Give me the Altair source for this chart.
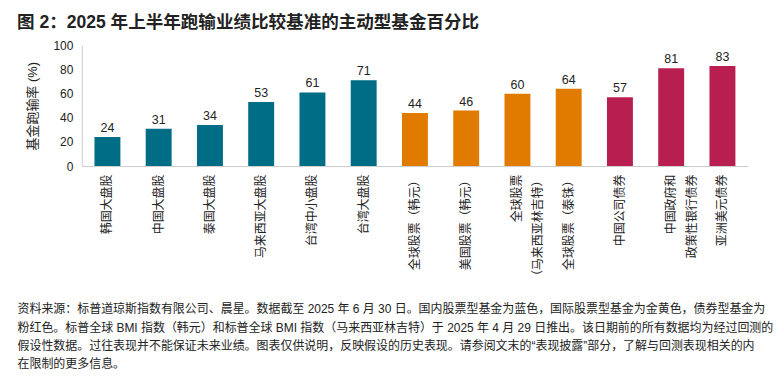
import altair as alt
import pandas as pd

categories = [
    "韩国大盘股", "中国大盘股", "泰国大盘股", "马来西亚大盘股", "台湾中小盘股", "台湾大盘股",
    "全球股票（韩元）", "美国股票（韩元）", "全球股票\u3000\u3000\n（马来西亚林吉特）", "全球股票（泰铢）",
    "中国公司债券", "中国政府和\u3000\n政策性银行债券", "亚洲美元债券",
]
values = [24, 31, 34, 53, 61, 71, 44, 46, 60, 64, 57, 81, 83]
groups = ["国内股票"] * 6 + ["国际股票"] * 4 + ["债券"] * 3
group_names = ["国内股票", "国际股票", "债券"]
group_colors = ["#006d87", "#e07b00", "#b81f50"]

title_text = "图 2：2025 年上半年跑输业绩比较基准的主动型基金百分比"
y_title = "基金跑输率 (%)"
footnote = [
    "资料来源：标普道琼斯指数有限公司、晨星。数据截至 2025 年 6 月 30 日。国内股票型基金为蓝色，国际股票型基金为金黄色，债券型基金为",
    "粉红色。标普全球 BMI 指数（韩元）和标普全球 BMI 指数（马来西亚林吉特）于 2025 年 4 月 29 日推出。该日期前的所有数据均为经过回测的",
    "假设性数据。过往表现并不能保证未来业绩。图表仅供说明，反映假设的历史表现。请参阅文末的“表现披露”部分，了解与回测表现相关的内",
    "在限制的更多信息。",
]

FONT = "Liberation Sans, Noto Sans CJK SC, sans-serif"

df = pd.DataFrame({"cat": categories, "val": values, "grp": groups})

x_enc = alt.X(
    "cat:N",
    sort=None,
    scale=alt.Scale(paddingInner=0.494),
    axis=alt.Axis(
        title=footnote,
        labelAngle=-90,
        labelExpr="split(datum.label, '\\n')",
        labelFontSize=12,
        labelLineHeight=21,
        labelColor="#222222",
        labelPadding=8,
        labelFont=FONT,
        ticks=False,
        domainColor="#cccccc",
        titleFont=FONT,
        titleFontSize=12,
        titleFontWeight="normal",
        titleColor="#222222",
        titleLineHeight=18.4,
        titleAnchor="start",
        titleAlign="left",
        titleBaseline="top",
        titleX=-65,
        titlePadding=22,
    ),
)
y_enc = alt.Y(
    "val:Q",
    scale=alt.Scale(domain=[0, 100]),
    axis=alt.Axis(
        title=y_title,
        values=[0, 20, 40, 60, 80, 100],
        grid=False,
        ticks=False,
        domainColor="#cccccc",
        labelFontSize=12,
        labelColor="#222222",
        labelPadding=9,
        labelFont=FONT,
        titleFont=FONT,
        titleFontSize=13,
        titleFontWeight="normal",
        titleColor="#222222",
        titlePadding=13,
    ),
)

base = alt.Chart(df).encode(x=x_enc, y=y_enc)

bars = base.mark_bar().encode(
    color=alt.Color("grp:N", scale=alt.Scale(domain=group_names, range=group_colors), legend=None)
)
labels = base.mark_text(dy=-9, fontSize=12.5, color="#222222", font=FONT).encode(
    text=alt.Text("val:Q")
)

chart = (
    alt.layer(bars, labels)
    .properties(
        width=668,
        height=121,
        padding={"left": 9, "top": 5, "right": 0, "bottom": 0},
        title=alt.TitleParams(
            text=title_text,
            anchor="start",
            frame="bounds",
            fontSize=17.6,
            fontWeight="bold",
            font=FONT,
            color="#222222",
            offset=8,
        ),
    )
    .configure_view(stroke=None)
)

chart.save("out.html", embed_options={"renderer": "svg", "actions": False})
